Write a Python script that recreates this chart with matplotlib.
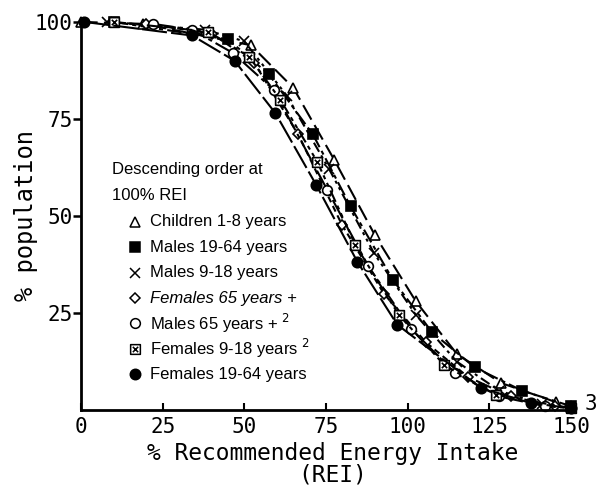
import matplotlib
matplotlib.use('Agg')
import matplotlib.pyplot as plt
from matplotlib.path import Path

# % REI (x) versus % population above that intake (y)
ch_x = [0, 19, 52, 65, 77.5, 90, 102.5, 115, 128.5, 145.5, 150]
ch_y = [100, 99.5, 94, 83, 64.5, 45, 28, 14.5, 7, 2, 1]

m1964_x = [10, 45, 57.5, 71, 82.5, 95.5, 107.5, 120.5, 135, 150]
m1964_y = [100, 95.5, 86.5, 71, 52.5, 33.5, 20, 11, 5, 1]

m918_x = [8, 38, 50, 63, 76, 89.7, 102.5, 115, 128, 141, 150]
m918_y = [100, 98, 95, 81, 62, 40.4, 24.5, 12.5, 5, 1.5, 0.5]

f65_x = [20, 40, 53, 66.5, 79.9, 92.7, 105.5, 118.5, 131.5, 145, 150]
f65_y = [99.5, 97, 89.5, 71, 47.7, 30, 17.5, 8.5, 3.5, 1, 0.5]

m65_x = [22, 34, 46.5, 59, 75.4, 88, 101, 114.5, 128, 142, 150]
m65_y = [99.5, 98, 92, 82.5, 56.7, 37, 21, 9.5, 3.5, 1, 0.5]

f918_x = [10, 39, 51.5, 61, 72.3, 84, 97.3, 111.2, 127, 150]
f918_y = [100, 97.5, 91, 80, 64, 42.5, 24.5, 11.6, 3.9, 0.5]

f1964_x = [1, 34, 47, 59.5, 72, 84.6, 96.8, 122.4, 137.7, 150]
f1964_y = [100, 96.5, 90, 76.5, 58, 38.2, 22, 5.7, 1.8, 0.5]

xticks = [0, 25, 50, 75, 100, 125, 150]
yticks = [25, 50, 75, 100]

labels = ['Children 1-8 years', 'Males 19-64 years', 'Males 9-18 years',
          'Females 65 years +', 'Males 65 years + $^{2}$',
          'Females 9-18 years $^{2}$', 'Females 19-64 years']

# square with a cross inside
xbox = Path([(-1, -1), (1, -1), (1, 1), (-1, 1), (-1, -1),
             (-0.55, -0.55), (0.55, 0.55), (-0.55, 0.55), (0.55, -0.55)],
            [Path.MOVETO, Path.LINETO, Path.LINETO, Path.LINETO, Path.CLOSEPOLY,
             Path.MOVETO, Path.LINETO, Path.MOVETO, Path.LINETO])

series = [
    (ch_x, ch_y, '^', 'white', 7.5, (0, (8, 3))),
    (m1964_x, m1964_y, 's', 'black', 7, (0, (7, 2, 2, 2))),
    (m918_x, m918_y, 'x', 'black', 7, (0, (5, 2, 1.5, 2, 1.5, 2))),
    (f65_x, f65_y, 'D', 'white', 5.5, (0, (3, 2))),
    (m65_x, m65_y, 'o', 'white', 7, (0, (10, 2, 2, 2))),
    (f918_x, f918_y, xbox, 'white', 7, (0, (6, 2, 2, 2, 2, 2))),
    (f1964_x, f1964_y, 'o', 'black', 7.5, (0, (12, 2))),
]

fig = plt.figure(figsize=(6.03, 4.87), dpi=100)
ax = fig.add_axes([0.1343, 0.158, 0.8127, 0.797])

for xs, ys, mk, fc, ms, ls in series:
    ax.plot(xs, ys, color='black', lw=1.5, linestyle=ls, marker=mk,
            markersize=ms, markerfacecolor=fc, markeredgecolor='black',
            markeredgewidth=1.2, clip_on=False)

ax.set_xlim(0, 150)
ax.set_ylim(0, 100)
ax.set_xticks(xticks)
ax.set_yticks(yticks)
mono = 'DejaVu Sans Mono'
ax.set_xticklabels([str(t) for t in xticks], family=mono, fontsize=15)
ax.set_yticklabels([str(t) for t in yticks], family=mono, fontsize=15)
ax.tick_params(axis='x', direction='in', length=5, width=1.5, pad=5)
ax.tick_params(axis='y', direction='out', length=6, width=1.8, pad=0)
for s in ['top', 'right']:
    ax.spines[s].set_visible(False)
for s in ['left', 'bottom']:
    ax.spines[s].set_linewidth(2)

fig.text(333 / 603, 1 - 486 / 487, '% Recommended Energy Intake\n(REI)',
         family=mono, fontsize=16.5, ha='center', va='bottom',
         multialignment='center', linespacing=0.88)
ax.set_ylabel('% population', family=mono, fontsize=17, labelpad=-2)
ax.text(154, 1.5, '3', family=mono, fontsize=15, va='center', clip_on=False)

# legend block
sans = 'Liberation Sans'
ax.text(9.5, 61.9, 'Descending order at', family=sans, fontsize=12, va='center')
ax.text(9.5, 55.2, '100% REI', family=sans, fontsize=12, va='center')
for i, (xs, ys, mk, fc, ms, ls) in enumerate(series):
    yy = 48.5 - 6.55 * i
    ax.plot([16.6], [yy], marker=mk, markersize=ms, markerfacecolor=fc,
            markeredgecolor='black', markeredgewidth=1.1, linestyle='none')
    ax.text(21.2, yy, labels[i], family=sans, fontsize=12, va='center',
            fontstyle='italic' if i == 3 else 'normal')

fig.savefig('out.png', dpi=100)
